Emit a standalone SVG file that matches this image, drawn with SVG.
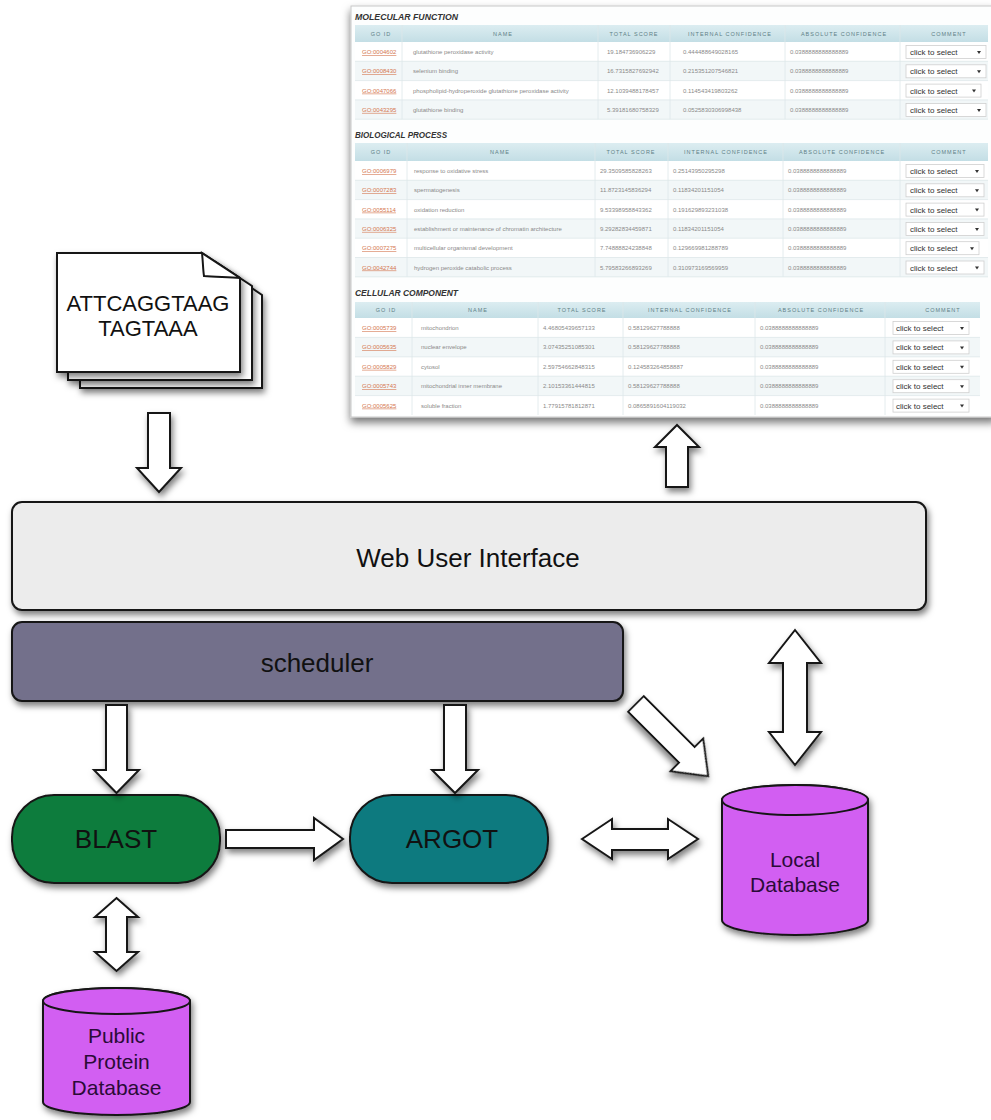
<svg xmlns="http://www.w3.org/2000/svg" width="991" height="1120" viewBox="0 0 991 1120">
<defs>
<filter id="sh" x="-20%" y="-20%" width="140%" height="150%"><feDropShadow dx="2" dy="4" stdDeviation="3" flood-color="#000" flood-opacity="0.5"/></filter>
<filter id="psh" x="-5%" y="-5%" width="110%" height="115%"><feDropShadow dx="0" dy="5" stdDeviation="4" flood-color="#000" flood-opacity="0.55"/></filter>
<linearGradient id="hd" x1="0" y1="0" x2="0" y2="1"><stop offset="0" stop-color="#dcedf1"/><stop offset="1" stop-color="#c3dee5"/></linearGradient>
<style>
.ln{stroke:#161616;stroke-width:2}
.ar{fill:#fff;stroke:#161616;stroke-width:2;stroke-linejoin:miter;filter:url(#sh)}
.lbl{font-family:"Liberation Sans",Arial,sans-serif;font-size:26px;text-anchor:middle;fill:#111}
.db{font-family:"Liberation Sans",Arial,sans-serif;font-size:21px;text-anchor:middle;fill:#2b0b38}
.doc{font-family:"Liberation Sans",Arial,sans-serif;font-size:22px;text-anchor:middle;fill:#111}
.sec{font-family:"Liberation Sans",Arial,sans-serif;font-size:9.5px;font-style:italic;font-weight:bold;fill:#333}
.th{font-family:"Liberation Sans",Arial,sans-serif;font-size:5.5px;letter-spacing:1px;text-anchor:middle;fill:#5f7f86}
.go{font-family:"Liberation Sans",Arial,sans-serif;font-size:6px;fill:#d4764f;text-decoration:underline}
.td{font-family:"Liberation Sans",Arial,sans-serif;font-size:6px;fill:#8a8a8a}
.st{font-family:"Liberation Sans",Arial,sans-serif;font-size:8px;fill:#333}
.sb{fill:#fff;stroke:#cfcfcf;stroke-width:0.8}
.sa{fill:#333}
.gl{stroke:#dde7ea;stroke-width:0.8}
.r0{fill:#ffffff}
.r1{fill:#f2f7f8}
</style>
</defs>
<rect width="991" height="1120" fill="#fff"/>

<!-- screenshot panel -->
<g id="results-screenshot">
<rect x="351" y="6" width="645" height="411" fill="#fdfefe" stroke="#c8c8c8" stroke-width="1" filter="url(#psh)"/>
<!-- Molecular function -->
<text class="sec" x="355" y="20" textLength="103" lengthAdjust="spacingAndGlyphs">MOLECULAR FUNCTION</text>
<rect x="355" y="25" width="633" height="17" fill="url(#hd)"/>
<g class="rows">
<rect class="r0" x="355" y="42" width="633" height="19.3"/>
<rect class="r1" x="355" y="61.3" width="633" height="19.3"/>
<rect class="r0" x="355" y="80.6" width="633" height="19.3"/>
<rect class="r1" x="355" y="99.9" width="633" height="19.3"/>
</g>
<g class="gl">
<line x1="355" y1="61.3" x2="988" y2="61.3"/><line x1="355" y1="80.6" x2="988" y2="80.6"/><line x1="355" y1="99.9" x2="988" y2="99.9"/><line x1="355" y1="119.2" x2="988" y2="119.2"/>
<line x1="402" y1="25" x2="402" y2="119.2"/><line x1="598" y1="25" x2="598" y2="119.2"/><line x1="670" y1="25" x2="670" y2="119.2"/><line x1="785" y1="25" x2="785" y2="119.2"/><line x1="900" y1="25" x2="900" y2="119.2"/>
</g>
<text class="th" x="381" y="35.5">GO ID</text><text class="th" x="503" y="35.5">NAME</text><text class="th" x="634" y="35.5">TOTAL SCORE</text><text class="th" x="730" y="35.5">INTERNAL CONFIDENCE</text><text class="th" x="844" y="35.5">ABSOLUTE CONFIDENCE</text><text class="th" x="949" y="35.5">COMMENT</text>
<text class="go" x="362" y="54">GO:0004602</text><text class="td" x="413" y="54">glutathione peroxidase activity</text><text class="td" x="607" y="54">19.184736906229</text><text class="td" x="683" y="54">0.444488649028165</text><text class="td" x="790" y="54">0.0388888888888889</text>
<text class="go" x="362" y="73.3">GO:0008430</text><text class="td" x="413" y="73.3">selenium binding</text><text class="td" x="607" y="73.3">16.7315827692942</text><text class="td" x="683" y="73.3">0.215351207546821</text><text class="td" x="790" y="73.3">0.0388888888888889</text>
<text class="go" x="362" y="92.6">GO:0047066</text><text class="td" x="413" y="92.6">phospholipid-hydroperoxide glutathione peroxidase activity</text><text class="td" x="607" y="92.6">12.1039488178457</text><text class="td" x="683" y="92.6">0.114543419803262</text><text class="td" x="790" y="92.6">0.0388888888888889</text>
<text class="go" x="362" y="111.9">GO:0043295</text><text class="td" x="413" y="111.9">glutathione binding</text><text class="td" x="607" y="111.9">5.39181680758329</text><text class="td" x="683" y="111.9">0.0525830306998438</text><text class="td" x="790" y="111.9">0.0388888888888889</text>
<g>
<rect class="sb" x="906" y="45.5" width="80" height="13"/><text class="st" x="910" y="55">click to select</text><polygon class="sa" points="977,51 981,51 979,54"/>
<rect class="sb" x="906" y="64.8" width="80" height="13"/><text class="st" x="910" y="74.3">click to select</text><polygon class="sa" points="977,70.3 981,70.3 979,73.3"/>
<rect class="sb" x="906" y="84.1" width="75" height="13"/><text class="st" x="910" y="93.6">click to select</text><polygon class="sa" points="972,89.6 976,89.6 974,92.6"/>
<rect class="sb" x="906" y="103.4" width="80" height="13"/><text class="st" x="910" y="112.9">click to select</text><polygon class="sa" points="977,108.9 981,108.9 979,111.9"/>
</g>

<!-- Biological process -->
<text class="sec" x="355" y="138" textLength="92" lengthAdjust="spacingAndGlyphs">BIOLOGICAL PROCESS</text>
<rect x="355" y="143" width="633" height="18" fill="url(#hd)"/>
<rect class="r0" x="355" y="161" width="633" height="19.3"/>
<rect class="r1" x="355" y="180.3" width="633" height="19.3"/>
<rect class="r0" x="355" y="199.6" width="633" height="19.3"/>
<rect class="r1" x="355" y="218.9" width="633" height="19.3"/>
<rect class="r0" x="355" y="238.2" width="633" height="19.3"/>
<rect class="r1" x="355" y="257.5" width="633" height="19.3"/>
<g class="gl">
<line x1="355" y1="180.3" x2="988" y2="180.3"/><line x1="355" y1="199.6" x2="988" y2="199.6"/><line x1="355" y1="218.9" x2="988" y2="218.9"/><line x1="355" y1="238.2" x2="988" y2="238.2"/><line x1="355" y1="257.5" x2="988" y2="257.5"/><line x1="355" y1="276.8" x2="988" y2="276.8"/>
<line x1="407" y1="143" x2="407" y2="276.8"/><line x1="595" y1="143" x2="595" y2="276.8"/><line x1="668" y1="143" x2="668" y2="276.8"/><line x1="783" y1="143" x2="783" y2="276.8"/><line x1="900" y1="143" x2="900" y2="276.8"/>
</g>
<text class="th" x="381" y="154">GO ID</text><text class="th" x="500" y="154">NAME</text><text class="th" x="631" y="154">TOTAL SCORE</text><text class="th" x="726" y="154">INTERNAL CONFIDENCE</text><text class="th" x="842" y="154">ABSOLUTE CONFIDENCE</text><text class="th" x="949" y="154">COMMENT</text>
<text class="go" x="362" y="173">GO:0006979</text><text class="td" x="414" y="173">response to oxidative stress</text><text class="td" x="600" y="173">29.3509585828263</text><text class="td" x="673" y="173">0.25143950295298</text><text class="td" x="788" y="173">0.0388888888888889</text>
<text class="go" x="362" y="192.3">GO:0007283</text><text class="td" x="414" y="192.3">spermatogenesis</text><text class="td" x="600" y="192.3">11.8723145836294</text><text class="td" x="673" y="192.3">0.11834201151054</text><text class="td" x="788" y="192.3">0.0388888888888889</text>
<text class="go" x="362" y="211.6">GO:0055114</text><text class="td" x="414" y="211.6">oxidation reduction</text><text class="td" x="600" y="211.6">9.53398958843362</text><text class="td" x="673" y="211.6">0.191629893231038</text><text class="td" x="788" y="211.6">0.0388888888888889</text>
<text class="go" x="362" y="230.9">GO:0006325</text><text class="td" x="414" y="230.9">establishment or maintenance of chromatin architecture</text><text class="td" x="600" y="230.9">9.29282834459871</text><text class="td" x="673" y="230.9">0.11834201151054</text><text class="td" x="788" y="230.9">0.0388888888888889</text>
<text class="go" x="362" y="250.2">GO:0007275</text><text class="td" x="414" y="250.2">multicellular organismal development</text><text class="td" x="600" y="250.2">7.74888824238848</text><text class="td" x="673" y="250.2">0.129669981288789</text><text class="td" x="788" y="250.2">0.0388888888888889</text>
<text class="go" x="362" y="269.5">GO:0042744</text><text class="td" x="414" y="269.5">hydrogen peroxide catabolic process</text><text class="td" x="600" y="269.5">5.79583266893269</text><text class="td" x="673" y="269.5">0.310973169569959</text><text class="td" x="788" y="269.5">0.0388888888888889</text>
<g>
<rect class="sb" x="906" y="164.5" width="78" height="13"/><text class="st" x="910" y="174">click to select</text><polygon class="sa" points="975,170 979,170 977,173"/>
<rect class="sb" x="906" y="183.8" width="78" height="13"/><text class="st" x="910" y="193.3">click to select</text><polygon class="sa" points="975,189.3 979,189.3 977,192.3"/>
<rect class="sb" x="906" y="203.1" width="78" height="13"/><text class="st" x="910" y="212.6">click to select</text><polygon class="sa" points="975,208.6 979,208.6 977,211.6"/>
<rect class="sb" x="906" y="222.4" width="78" height="13"/><text class="st" x="910" y="231.9">click to select</text><polygon class="sa" points="975,227.9 979,227.9 977,230.9"/>
<rect class="sb" x="906" y="241.7" width="73" height="13"/><text class="st" x="910" y="251.2">click to select</text><polygon class="sa" points="970,247.2 974,247.2 972,250.2"/>
<rect class="sb" x="906" y="261" width="78" height="13"/><text class="st" x="910" y="270.5">click to select</text><polygon class="sa" points="975,266.5 979,266.5 977,269.5"/>
</g>

<!-- Cellular component -->
<text class="sec" x="355" y="296" textLength="103" lengthAdjust="spacingAndGlyphs">CELLULAR COMPONENT</text>
<rect x="355" y="302" width="625" height="16" fill="url(#hd)"/>
<rect class="r0" x="355" y="318" width="625" height="19.4"/>
<rect class="r1" x="355" y="337.4" width="625" height="19.4"/>
<rect class="r0" x="355" y="356.8" width="625" height="19.4"/>
<rect class="r1" x="355" y="376.2" width="625" height="19.4"/>
<rect class="r0" x="355" y="395.6" width="625" height="19.4"/>
<g class="gl">
<line x1="355" y1="337.4" x2="980" y2="337.4"/><line x1="355" y1="356.8" x2="980" y2="356.8"/><line x1="355" y1="376.2" x2="980" y2="376.2"/><line x1="355" y1="395.6" x2="980" y2="395.6"/>
<line x1="412" y1="302" x2="412" y2="415"/><line x1="538" y1="302" x2="538" y2="415"/><line x1="623" y1="302" x2="623" y2="415"/><line x1="755" y1="302" x2="755" y2="415"/><line x1="885" y1="302" x2="885" y2="415"/>
</g>
<text class="th" x="386" y="312">GO ID</text><text class="th" x="478" y="312">NAME</text><text class="th" x="582" y="312">TOTAL SCORE</text><text class="th" x="690" y="312">INTERNAL CONFIDENCE</text><text class="th" x="821" y="312">ABSOLUTE CONFIDENCE</text><text class="th" x="943" y="312">COMMENT</text>
<text class="go" x="362" y="330">GO:0005739</text><text class="td" x="421" y="330">mitochondrion</text><text class="td" x="543" y="330">4.46805439657133</text><text class="td" x="628" y="330">0.58129627788888</text><text class="td" x="760" y="330">0.0388888888888889</text>
<text class="go" x="362" y="349.4">GO:0005635</text><text class="td" x="421" y="349.4">nuclear envelope</text><text class="td" x="543" y="349.4">3.07435251085301</text><text class="td" x="628" y="349.4">0.58129627788888</text><text class="td" x="760" y="349.4">0.0388888888888889</text>
<text class="go" x="362" y="368.8">GO:0005829</text><text class="td" x="421" y="368.8">cytosol</text><text class="td" x="543" y="368.8">2.59754662848315</text><text class="td" x="628" y="368.8">0.124583264858887</text><text class="td" x="760" y="368.8">0.0388888888888889</text>
<text class="go" x="362" y="388.2">GO:0005743</text><text class="td" x="421" y="388.2">mitochondrial inner membrane</text><text class="td" x="543" y="388.2">2.10153361444815</text><text class="td" x="628" y="388.2">0.58129627788888</text><text class="td" x="760" y="388.2">0.0388888888888889</text>
<text class="go" x="362" y="407.6">GO:0005625</text><text class="td" x="421" y="407.6">soluble fraction</text><text class="td" x="543" y="407.6">1.77915781812871</text><text class="td" x="628" y="407.6">0.0865891604119032</text><text class="td" x="760" y="407.6">0.0388888888888889</text>
<g>
<rect class="sb" x="893" y="321.5" width="76" height="13"/><text class="st" x="896" y="331">click to select</text><polygon class="sa" points="960,327 964,327 962,330"/>
<rect class="sb" x="893" y="340.9" width="76" height="13"/><text class="st" x="896" y="350.4">click to select</text><polygon class="sa" points="960,346.4 964,346.4 962,349.4"/>
<rect class="sb" x="893" y="360.3" width="76" height="13"/><text class="st" x="896" y="369.8">click to select</text><polygon class="sa" points="960,365.8 964,365.8 962,368.8"/>
<rect class="sb" x="893" y="379.7" width="76" height="13"/><text class="st" x="896" y="389.2">click to select</text><polygon class="sa" points="960,385.2 964,385.2 962,388.2"/>
<rect class="sb" x="893" y="399.1" width="76" height="13"/><text class="st" x="896" y="408.6">click to select</text><polygon class="sa" points="960,404.6 964,404.6 962,407.6"/>
</g>
</g>

<!-- sequence documents -->
<g id="sequence-files">
<path d="M80,270 H225 L262,295 V388 H80 Z" fill="#fff" class="ln" filter="url(#sh)"/>
<path d="M68,261 H214 L252,286 V380 H68 Z" fill="#fff" class="ln" filter="url(#sh)"/>
<path d="M57,253 H202 L240,278 V372 H57 Z" fill="#fff" class="ln" filter="url(#sh)"/>
<path d="M202,253 C203,262 203,270 204,276 C215,277 228,277 240,278 Z" fill="#fff" class="ln"/>
<text class="doc" x="148" y="311">ATTCAGGTAAG</text>
<text class="doc" x="148" y="336">TAGTAAA</text>
</g>

<!-- nodes -->
<g id="web-user-interface">
<rect x="12" y="502" width="914" height="108" rx="10" fill="#ececec" class="ln" filter="url(#sh)"/>
<text class="lbl" x="468" y="567">Web User Interface</text>
</g>
<g id="scheduler">
<rect x="12" y="622" width="611" height="79" rx="10" fill="#736f8b" class="ln" filter="url(#sh)"/>
<text class="lbl" x="317" y="672">scheduler</text>
</g>
<g id="blast">
<rect x="12" y="795" width="208" height="88" rx="42" fill="#0d7b3c" class="ln" filter="url(#sh)"/>
<text class="lbl" x="116" y="848" fill="#0b1a10">BLAST</text>
</g>
<g id="argot">
<rect x="350" y="795" width="198" height="88" rx="42" fill="#0b7a7f" class="ln" filter="url(#sh)"/>
<text class="lbl" x="452" y="848" fill="#0b1a1a">ARGOT</text>
</g>
<g id="local-database">
<path d="M722,800 V920 A73,15 0 0 0 868,920 V800 A73,15 0 0 0 722,800 Z" fill="#d25ef2" class="ln" filter="url(#sh)"/>
<ellipse cx="795" cy="800" rx="73" ry="15" fill="#d25ef2" class="ln"/>
<text class="db" x="795" y="867">Local</text>
<text class="db" x="795" y="892">Database</text>
</g>
<g id="public-protein-database">
<path d="M43,1001 V1102 A73.5,13 0 0 0 190,1102 V1001 A73.5,13 0 0 0 43,1001 Z" fill="#d25ef2" class="ln" filter="url(#sh)"/>
<ellipse cx="116.5" cy="1001" rx="73.5" ry="13" fill="#d25ef2" class="ln"/>
<text class="db" x="116.5" y="1043">Public</text>
<text class="db" x="116.5" y="1069">Protein</text>
<text class="db" x="116.5" y="1095">Database</text>
</g>

<!-- connectors -->
<g id="connectors">
<polygon class="ar" points="148,413 170,413 170,468 181,468 159,492 137,468 148,468"/>
<polygon class="ar" points="666,487 688,487 688,447 699,447 677,425 655,447 666,447"/>
<polygon class="ar" points="106,705 127,705 127,770 139,770 116.5,793 94,770 106,770"/>
<polygon class="ar" points="444,705 466,705 466,770 478,770 455,793 432,770 444,770"/>
<polygon class="ar" points="226,830 314,830 314,818 343,839 314,860 314,848 226,848"/>
<polygon class="ar" points="116.5,898 138,917 127,917 127,952 138,952 116.5,971 95,952 106,952 106,917 95,917"/>
<polygon class="ar" points="795,630 821,663 807,663 807,732 821,732 795,765 769,732 783,732 783,663 769,663"/>
<polygon class="ar" points="582,839 612,819 612,829 668,829 668,819 698,839 668,859 668,850 612,850 612,859"/>
<polygon class="ar" transform="translate(636,704) rotate(45)" points="0,-11 72,-11 72,-23 102,0 72,23 72,11 0,11"/>
</g>
</svg>
